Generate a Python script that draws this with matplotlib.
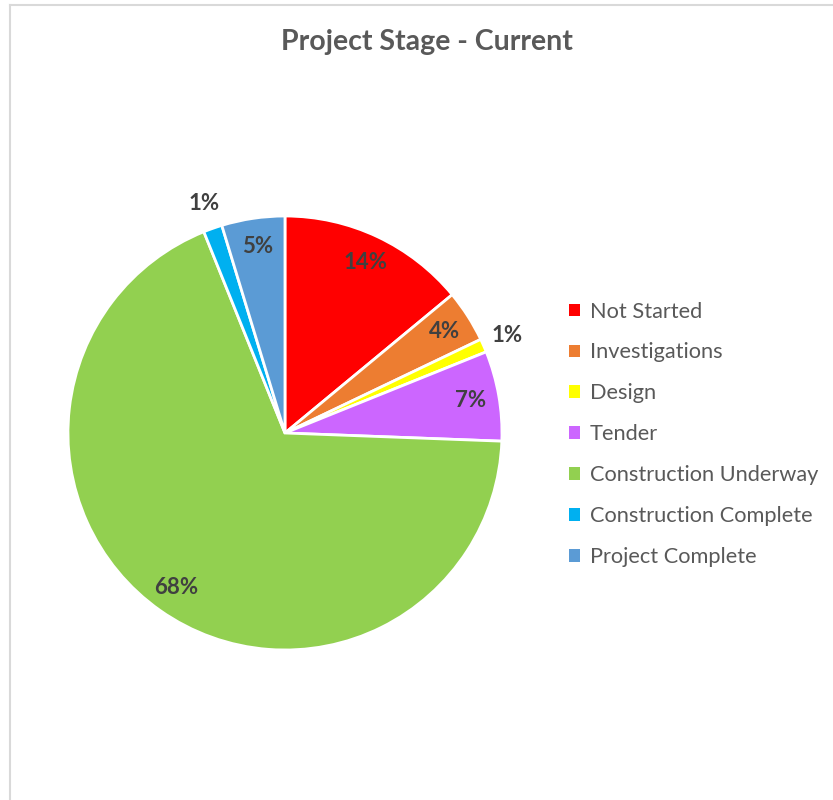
import matplotlib.pyplot as plt
import numpy as np
from matplotlib.lines import Line2D

plt.rcParams['font.family'] = ['Lato', 'DejaVu Sans']

stages = ["Not Started", "Investigations", "Design", "Tender",
          "Construction Underway", "Construction Complete", "Project Complete"]
shares = [14.0, 3.9, 1.0, 6.7, 68.3, 1.4, 4.7]
colors = ["#ff0000", "#ed7d31", "#ffff00", "#cc66ff",
          "#92d050", "#00b0f0", "#5b9bd5"]
# small slices get their label outside the pie
outside = [False, False, True, False, False, True, False]

fig = plt.figure(figsize=(8.33, 8.00), dpi=100)

# chart area border (left and top visible)
fig.add_artist(Line2D([0.012, 0.012], [0, 0.994], color="#d9d9d9", lw=1.5))
fig.add_artist(Line2D([0.012, 1.0], [0.994, 0.994], color="#d9d9d9", lw=1.5))

ax = fig.add_axes([0.0816, 0.1875, 0.521, 0.5425])
wedges, _ = ax.pie(shares, colors=colors, startangle=90, counterclock=False,
                   wedgeprops=dict(edgecolor="white", linewidth=2))
ax.set_xlim(-1, 1)
ax.set_ylim(-1, 1)
ax.set_aspect("equal")

for w, v, out in zip(wedges, shares, outside):
    ang = np.deg2rad((w.theta1 + w.theta2) / 2)
    r = 1.12 if out else 0.87
    ax.text(r * np.cos(ang), r * np.sin(ang), f"{v:.0f}%",
            ha="center", va="center", fontsize=16, fontweight="bold",
            color="#404040")

fig.text(0.512, 0.947, "Project Stage - Current", ha="center", va="center",
         fontsize=20.5, fontweight="bold", color="#595959")

leg = fig.legend(wedges, stages, loc="upper left",
                 bbox_to_anchor=(0.673, 0.634), frameon=False,
                 fontsize=15.7, labelcolor="#595959",
                 handlelength=0.5, handleheight=0.5, handletextpad=0.45,
                 labelspacing=0.96, borderaxespad=0)
for h in leg.legend_handles:
    h.set_linewidth(0)

fig.savefig("out.png", dpi=100)
